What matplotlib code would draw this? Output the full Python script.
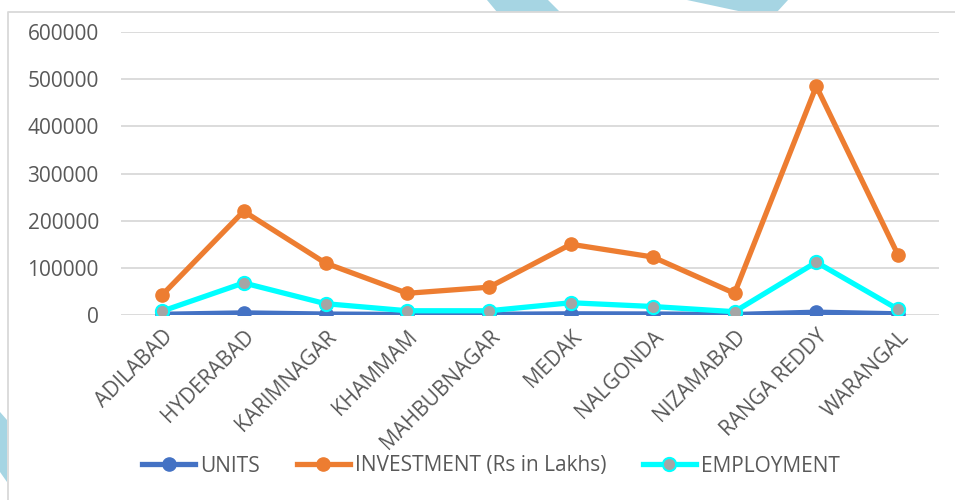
import matplotlib.pyplot as plt
from matplotlib.patches import Polygon

districts = ["ADILABAD", "HYDERABAD", "KARIMNAGAR", "KHAMMAM", "MAHBUBNAGAR",
             "MEDAK", "NALGONDA", "NIZAMABAD", "RANGA REDDY", "WARANGAL"]
units = [1500, 4500, 2000, 1200, 1500, 2500, 2200, 1000, 6000, 2500]
investment = [42000, 220000, 110000, 46000, 59000, 150000, 123000, 46000, 485000, 127000]
employment = [8000, 68000, 24000, 9000, 9000, 26000, 18000, 7000, 112000, 12000]
yticks = [0, 100000, 200000, 300000, 400000, 500000, 600000]

plt.rcParams["font.family"] = ["Open Sans", "DejaVu Sans"]
txt = "#595959"
fs = 15

W, H = 955, 500
fig = plt.figure(figsize=(9.55, 5.0), dpi=100)

# decorative background shapes (pixel coords -> figure fraction)
def shape(pts):
    return Polygon([(x / W, 1 - y / H) for x, y in pts], closed=True,
                   transform=fig.transFigure, facecolor="#A6D5E3",
                   edgecolor="none", zorder=0)

fig.patches.append(shape([(487, 0), (548, 0), (560, 12), (497, 12)]))
fig.patches.append(shape([(687, 0), (788, 0), (777, 12), (743, 12)]))
fig.patches.append(shape([(0, 412), (7, 420), (7, 482), (0, 472)]))

# chart border
fig.lines.append(plt.Line2D([8 / W, 8 / W, 1], [0, 1 - 12 / H, 1 - 12 / H],
                            transform=fig.transFigure, color="#D9D9D9", lw=1.3))

ax = fig.add_axes([121 / W, 0.37, (939 - 121) / W, 0.936 - 0.37])
x = range(len(districts))

ax.plot(x, units, color="#4472C4", lw=3.8, marker="o", ms=9.5, label="UNITS", zorder=3)
ax.plot(x, investment, color="#ED7D31", lw=3.8, marker="o", ms=9.5,
        label="INVESTMENT (Rs in Lakhs)", zorder=3)
ax.plot(x, employment, color="#00FFFF", lw=3.8, marker="o", ms=9.5,
        markerfacecolor="#A5A5A5", markeredgecolor="#00FFFF", markeredgewidth=1.5,
        label="EMPLOYMENT", zorder=4)

ax.set_xlim(-0.5, len(districts) - 0.5)
ax.set_ylim(0, 600000)
ax.set_yticks(yticks)
ax.set_yticklabels([str(v) for v in yticks], fontsize=fs, color=txt)
ax.set_xticks(list(x))
ax.set_xticklabels(districts, rotation=45, ha="right", rotation_mode="anchor",
                   fontsize=fs, color=txt)
ax.tick_params(length=0)
ax.tick_params(axis="y", pad=16)
ax.tick_params(axis="x", pad=8)
ax.grid(axis="y", color="#D9D9D9", lw=1.3)
ax.set_axisbelow(True)
for s in ax.spines.values():
    s.set_visible(False)
ax.patch.set_alpha(0)

leg = fig.legend(loc="center", bbox_to_anchor=(491 / W, 1 - 466 / H), ncol=3,
                 frameon=False, fontsize=fs, handlelength=2.55, columnspacing=1.75,
                 handletextpad=0.25)
for t in leg.get_texts():
    t.set_color(txt)

fig.savefig("out.png", dpi=100)
